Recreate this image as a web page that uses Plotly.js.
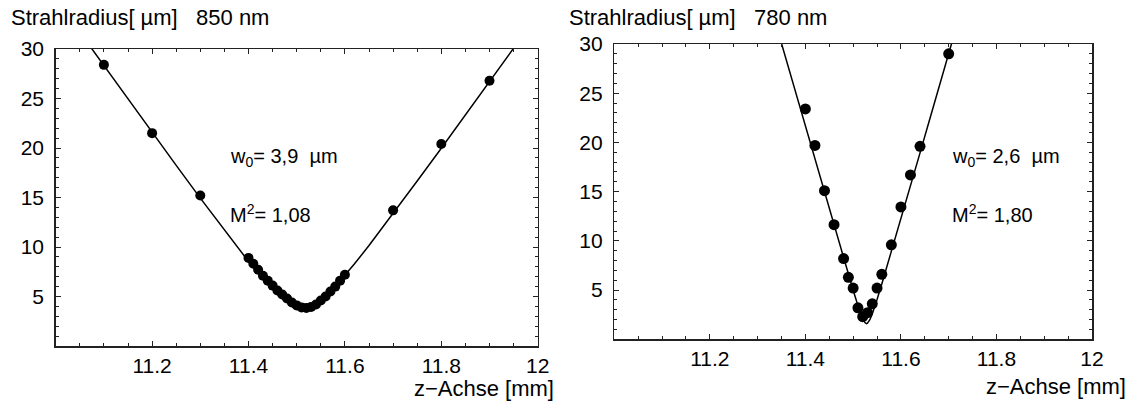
<!DOCTYPE html>
<html>
<head>
<meta charset="utf-8">
<script src="https://cdn.plot.ly/plotly-3.0.1.min.js"></script>
<style>html,body{margin:0;padding:0;background:#fff;}#chart{width:1130px;height:403px;}</style>
</head>
<body>
<div id="chart"></div>
<script>
// ---- data: 850 nm (left panel) ----
const z850 = [11.10, 11.20, 11.30,
  11.40, 11.41, 11.42, 11.43, 11.44, 11.45, 11.46, 11.47, 11.48, 11.49, 11.50,
  11.51, 11.52, 11.53, 11.54, 11.55, 11.56, 11.57, 11.58, 11.59, 11.60,
  11.70, 11.80, 11.90];
const w850 = [28.4, 21.5, 15.2,
  8.9, 8.3, 7.7, 7.1, 6.6, 6.1, 5.6, 5.2, 4.8, 4.4, 4.1,
  3.9, 3.85, 3.95, 4.2, 4.6, 5.0, 5.5, 6.0, 6.6, 7.2,
  13.7, 20.4, 26.8];
// fitted curve
const fitZ850 = [11.05, 11.10, 11.15, 11.20, 11.25, 11.30, 11.35, 11.38, 11.40, 11.42, 11.44, 11.46, 11.47, 11.48, 11.49, 11.50, 11.51, 11.52, 11.53, 11.54, 11.55, 11.56, 11.58, 11.60, 11.62, 11.65, 11.70, 11.75, 11.80, 11.85, 11.90, 11.95, 11.97];
const fitW850 = [31.70, 28.32, 24.95, 21.59, 18.25, 14.94, 11.68, 9.78, 8.54, 7.35, 6.23, 5.22, 4.79, 4.42, 4.12, 3.93, 3.84, 3.88, 4.03, 4.29, 4.63, 5.04, 6.02, 7.12, 8.30, 10.15, 13.37, 16.66, 19.98, 23.34, 26.70, 30.08, 31.43];

// ---- data: 780 nm (right panel) ----
const z780 = [11.40, 11.42, 11.44, 11.46, 11.48, 11.49, 11.50, 11.51, 11.52, 11.53, 11.54, 11.55, 11.56, 11.58, 11.60, 11.62, 11.64, 11.70];
const w780 = [23.4, 19.7, 15.1, 11.65, 8.2, 6.3, 5.2, 3.2, 2.3, 2.7, 3.6, 5.2, 6.6, 9.6, 13.45, 16.7, 19.6, 29.0];
const fitZ780 = [11.33, 11.36, 11.38, 11.40, 11.42, 11.44, 11.46, 11.48, 11.49, 11.50, 11.51, 11.515, 11.52, 11.525, 11.528, 11.53, 11.535, 11.54, 11.545, 11.55, 11.56, 11.57, 11.58, 11.60, 11.62, 11.64, 11.66, 11.68, 11.70, 11.72];
const fitW780 = [33.4, 28.35, 24.99, 21.63, 18.27, 14.92, 11.57, 8.24, 6.60, 4.98, 3.43, 2.71, 2.09, 1.68, 1.60, 1.64, 1.99, 2.58, 3.28, 4.04, 5.62, 7.26, 8.91, 12.24, 15.58, 18.94, 22.30, 25.66, 29.02, 32.39];

// ---- labels ----
const xTickVals = [11.2, 11.4, 11.6, 11.8, 12];
const xTickText = ['11.2', '11.4', '11.6', '11.8', '12'];
const yTickVals = [5, 10, 15, 20, 25, 30];
const yTickText = ['5', '10', '15', '20', '25', '30'];
const yTitles = ['Strahlradius[ µm]   850 nm', 'Strahlradius[ µm]   780 nm'];
const xTitle = 'z−Achse [mm]';
const w0Text = ['w<sub>0</sub>= 3,9  µm', 'w<sub>0</sub>= 2,6  µm'];
const m2Text = ['M<sup>2</sup>= 1,08', 'M<sup>2</sup>= 1,80'];

const FONT = 'Liberation Sans, Arial, Helvetica, sans-serif';
const nb = s => s.replace(/ /g, '\u00a0');

const traces = [
  {x: fitZ850, y: fitW850, mode: 'lines', line: {color: '#000', width: 1.5}, xaxis: 'x', yaxis: 'y', hoverinfo: 'skip'},
  {x: z850, y: w850, mode: 'markers', marker: {color: '#000', size: 10}, xaxis: 'x', yaxis: 'y'},
  {x: fitZ780, y: fitW780, mode: 'lines', line: {color: '#000', width: 1.5}, xaxis: 'x2', yaxis: 'y2', hoverinfo: 'skip'},
  {x: z780, y: w780, mode: 'markers', marker: {color: '#000', size: 11}, xaxis: 'x2', yaxis: 'y2'}
];

function xax(domain, anchor) {
  return {
    domain: domain, anchor: anchor, range: [11, 12],
    tickmode: 'array', tickvals: xTickVals, ticktext: xTickText,
    ticks: 'inside', ticklen: 5, tickwidth: 1, tickcolor: '#222',
    minor: {tickmode: 'linear', tick0: 11, dtick: 0.05, ticks: 'inside', ticklen: 3, tickwidth: 1, tickcolor: '#222'},
    showline: true, linewidth: 1.5, linecolor: '#222', mirror: 'allticks',
    showgrid: false, zeroline: false, ticklabelstandoff: 0,
    tickfont: {family: FONT, size: 21, color: '#000'}
  };
}
function yax(domain, anchor) {
  return {
    domain: domain, anchor: anchor, range: [0, 30],
    tickmode: 'array', tickvals: yTickVals, ticktext: yTickText,
    ticks: 'inside', ticklen: 5, tickwidth: 1, tickcolor: '#222',
    minor: {tickmode: 'linear', tick0: 0, dtick: 1, ticks: 'inside', ticklen: 3, tickwidth: 1, tickcolor: '#222'},
    showline: true, linewidth: 1.5, linecolor: '#222', mirror: 'allticks',
    showgrid: false, zeroline: false, ticklabelstandoff: 6,
    tickfont: {family: FONT, size: 21, color: '#000'}
  };
}

const tf = {family: FONT, size: 22, color: '#000'};
const af = {family: FONT, size: 20, color: '#000'};
const ann = [
  {text: nb(yTitles[0]), xref: 'paper', yref: 'paper', x: 9/1130, y: 1 - 18/403, xanchor: 'left', yanchor: 'middle', showarrow: false, font: tf},
  {text: nb(yTitles[1]), xref: 'paper', yref: 'paper', x: 567/1130, y: 1 - 18/403, xanchor: 'left', yanchor: 'middle', showarrow: false, font: tf},
  {text: xTitle, xref: 'paper', yref: 'paper', x: 556/1130, y: 1 - 388/403, xanchor: 'right', yanchor: 'middle', showarrow: false, font: tf},
  {text: xTitle, xref: 'paper', yref: 'paper', x: 1128/1130, y: 1 - 386/403, xanchor: 'right', yanchor: 'middle', showarrow: false, font: tf},
  {text: nb(w0Text[0]), xref: 'paper', yref: 'paper', x: 228/1130, y: 1 - 158/403, xanchor: 'left', yanchor: 'middle', showarrow: false, font: af},
  {text: nb(m2Text[0]), xref: 'paper', yref: 'paper', x: 228/1130, y: 1 - 213/403, xanchor: 'left', yanchor: 'middle', showarrow: false, font: af},
  {text: nb(w0Text[1]), xref: 'paper', yref: 'paper', x: 950/1130, y: 1 - 158/403, xanchor: 'left', yanchor: 'middle', showarrow: false, font: af},
  {text: nb(m2Text[1]), xref: 'paper', yref: 'paper', x: 950/1130, y: 1 - 213/403, xanchor: 'left', yanchor: 'middle', showarrow: false, font: af}
];

const layout = {
  width: 1130, height: 403,
  margin: {l: 0, r: 0, t: 0, b: 0},
  paper_bgcolor: '#fff', plot_bgcolor: '#fff',
  showlegend: false,
  font: {family: FONT, color: '#000'},
  xaxis: xax([55.7/1130, 537.7/1130], 'y'),
  yaxis: yax([1 - 346/403, 1 - 49/403], 'x'),
  xaxis2: xax([614.3/1130, 1092/1130], 'y2'),
  yaxis2: yax([1 - 339.3/403, 1 - 44/403], 'x2'),
  annotations: ann
};

Plotly.newPlot('chart', traces, layout, {displayModeBar: false, staticPlot: true});
</script>
</body>
</html>
